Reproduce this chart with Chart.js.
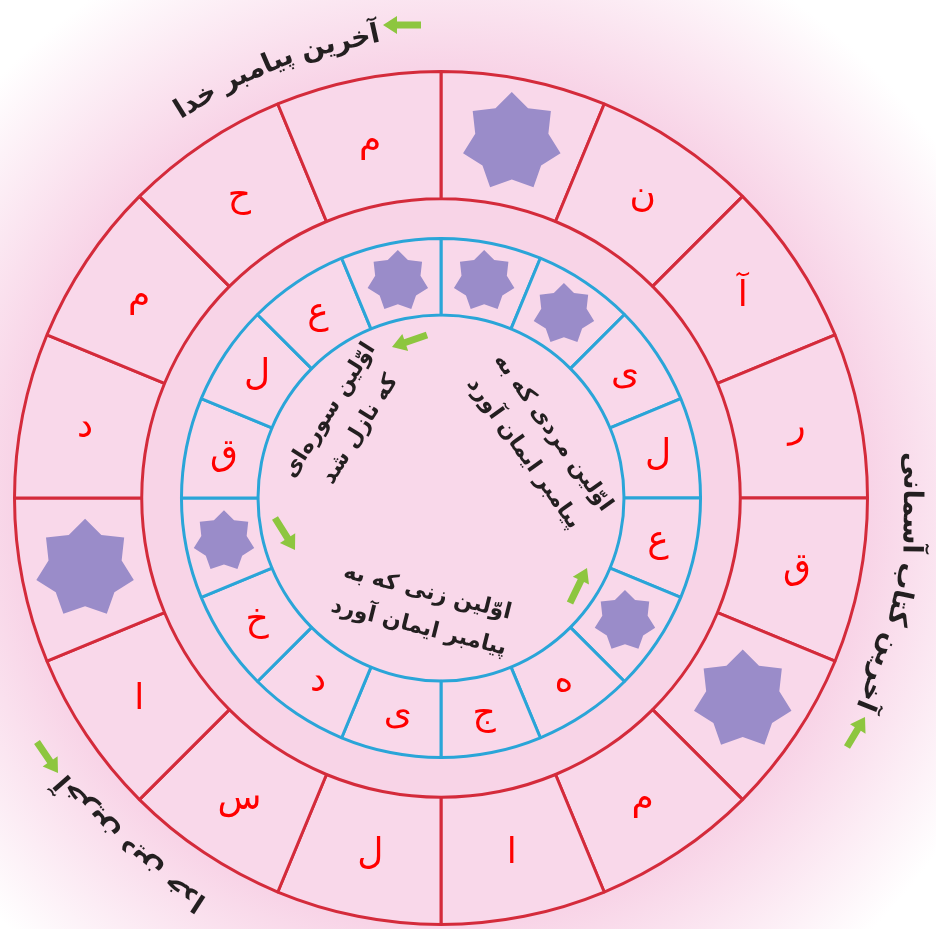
<!DOCTYPE html>
<html>
<head>
<meta charset="utf-8">
<script src="https://cdn.jsdelivr.net/npm/chart.js@4.4.0/dist/chart.umd.min.js"></script>
<style>
  body { margin: 0; background: #fff; }
  canvas { display: block; }
</style>
</head>
<body>
<canvas id="myChart" width="936" height="929"></canvas>
<script>
// outer ring, clockwise from the top ("★" = star cell)
var outerLetters = ['★', 'ن', 'آ', 'ر', 'ق', '★', 'م', 'ا', 'ل', 'س', 'ا', '★', 'د', 'م', 'ح', 'م'];
var outerValues = [1, 1, 1, 1, 1, 1, 1, 1, 1, 1, 1, 1, 1, 1, 1, 1];

// inner ring, clockwise from the top
var innerLetters = ['★', '★', 'ی', 'ل', 'ع', '★', 'ه', 'ج', 'ی', 'د', 'خ', '★', 'ق', 'ل', 'ع', '★'];
var innerValues = [1, 1, 1, 1, 1, 1, 1, 1, 1, 1, 1, 1, 1, 1, 1, 1];

// empty band between the two rings
var gapValues = [1];

// clues written round the outside (words in reading order)
var outerClues = [
  ['آخرین', 'پیامبر', 'خدا'],
  ['آخرین', 'کتاب', 'آسمانی'],
  ['آخرین', 'دین', 'خدا']
];

// clues written in the middle (two lines each)
var innerClues = [
  ['اوّلین مردی که به', 'پیامبر ایمان آورد'],
  ['اوّلین سوره‌ای', 'که نازل شد'],
  ['اوّلین زنی که به', 'پیامبر ایمان آورد']
];

var FONT = '"DejaVu Sans", sans-serif';
var CELL = '#f9d8ea';
var INK = '#231f20';

function drawStar(ctx, x, y, r) {
  ctx.beginPath();
  for (var i = 0; i < 14; i++) {
    var a = -Math.PI / 2 + i * Math.PI / 7;
    var rr = i % 2 ? r * 0.75 : r;
    ctx.lineTo(x + rr * Math.cos(a), y + rr * Math.sin(a));
  }
  ctx.closePath();
  ctx.fillStyle = '#9a8cc9';
  ctx.fill();
}

function drawArrow(ctx, x1, y1, x2, y2) {
  var a = Math.atan2(y2 - y1, x2 - x1);
  var len = Math.sqrt((x2 - x1) * (x2 - x1) + (y2 - y1) * (y2 - y1));
  ctx.save();
  ctx.translate(x1, y1);
  ctx.rotate(a);
  ctx.fillStyle = '#8dc63f';
  ctx.beginPath();
  ctx.moveTo(0, -3.5);
  ctx.lineTo(len - 14, -3.5);
  ctx.lineTo(len - 14, -9);
  ctx.lineTo(len, 0);
  ctx.lineTo(len - 14, 9);
  ctx.lineTo(len - 14, 3.5);
  ctx.lineTo(0, 3.5);
  ctx.closePath();
  ctx.fill();
  ctx.restore();
}

// words placed along a circle, tops facing outwards
function arcText(ctx, cx, cy, r, mid, words) {
  var vis = words.slice().reverse();
  var sp = ctx.measureText(' ').width;
  var ws = vis.map(function (w) { return ctx.measureText(w).width; });
  var total = sp * (vis.length - 1);
  ws.forEach(function (w) { total += w; });
  var a = mid - total / 2 / r;
  vis.forEach(function (w, i) {
    var am = a + ws[i] / 2 / r;
    ctx.save();
    ctx.translate(cx + r * Math.cos(am), cy + r * Math.sin(am));
    ctx.rotate(am + Math.PI / 2);
    ctx.fillText(w, 0, 0);
    ctx.restore();
    a += (ws[i] + sp) / r;
  });
}

var rad = Math.PI / 180;

var decor = {
  id: 'decor',
  beforeDraw: function (chart) {
    var ctx = chart.ctx;
    var arc = chart.getDatasetMeta(2).data[0];
    var cx = arc.x, cy = arc.y;
    ctx.save();
    var g = ctx.createRadialGradient(cx, cy, 430, cx, cy, 610);
    g.addColorStop(0, '#f8d4e7');
    g.addColorStop(1, '#ffffff');
    ctx.fillStyle = g;
    ctx.fillRect(0, 0, chart.width, chart.height);
    ctx.beginPath();
    ctx.arc(cx, cy, arc.innerRadius, 0, Math.PI * 2);
    ctx.fillStyle = CELL;
    ctx.fill();
    ctx.restore();
  },
  afterDatasetsDraw: function (chart) {
    var ctx = chart.ctx;
    ctx.save();
    [[0, outerLetters, 50], [2, innerLetters, 31]].forEach(function (ring) {
      chart.getDatasetMeta(ring[0]).data.forEach(function (el, i) {
        var p = el.getCenterPoint();
        if (ring[1][i] === '★') {
          drawStar(ctx, p.x, p.y, ring[2]);
        } else {
          ctx.fillStyle = '#ff0000';
          ctx.font = '36px ' + FONT;
          ctx.textAlign = 'center';
          ctx.textBaseline = 'middle';
          ctx.fillText(ring[1][i], p.x, p.y);
        }
      });
    });

    var c = chart.getDatasetMeta(0).data[0];
    var cx = c.x, cy = c.y;

    // clues round the outside
    ctx.fillStyle = INK;
    ctx.font = 'bold 27px ' + FONT;
    ctx.textAlign = 'center';
    ctx.textBaseline = 'middle';
    var arcs = [[-111, 466], [10.5, 470], [132, 470]];
    outerClues.forEach(function (words, i) {
      arcText(ctx, cx, cy, arcs[i][1], arcs[i][0] * rad, words);
    });

    // clues in the middle
    ctx.font = 'bold 22px ' + FONT;
    ctx.direction = 'rtl';
    var blocks = [[97, -55, 54.5], [-96, -78, -58], [-18, 112, 14]];
    innerClues.forEach(function (lines, i) {
      var b = blocks[i];
      ctx.save();
      ctx.translate(cx + b[0], cy + b[1]);
      ctx.rotate(b[2] * rad);
      lines.forEach(function (t, j) {
        ctx.fillText(t, 0, (j - 0.5) * 36);
      });
      ctx.restore();
    });

    // green pointers
    [[-20, -473, -58, -473],
     [406, 249, 424, 219],
     [-404, 244, -383, 275],
     [129, 105, 146, 70],
     [-14, -163, -49, -151],
     [-166, 20, -146, 52]].forEach(function (a) {
      drawArrow(ctx, cx + a[0], cy + a[1], cx + a[2], cy + a[3]);
    });
    ctx.restore();
  }
};

new Chart(document.getElementById('myChart'), {
  type: 'doughnut',
  data: {
    labels: outerLetters,
    datasets: [
      {
        data: outerValues,
        backgroundColor: CELL,
        borderColor: '#d42b3b',
        borderWidth: 3,
        weight: 128
      },
      {
        data: gapValues,
        backgroundColor: 'rgba(0,0,0,0)',
        borderWidth: 0,
        weight: 40
      },
      {
        data: innerValues,
        backgroundColor: CELL,
        borderColor: '#2aa5d8',
        borderWidth: 3,
        weight: 77
      }
    ]
  },
  options: {
    responsive: false,
    animation: false,
    events: [],
    cutout: 183,
    hoverOffset: 0,
    layout: { padding: { left: 0, right: 54, top: 70, bottom: 3 } },
    plugins: {
      legend: { display: false },
      tooltip: { enabled: false }
    }
  },
  plugins: [decor]
});
</script>
</body>
</html>
